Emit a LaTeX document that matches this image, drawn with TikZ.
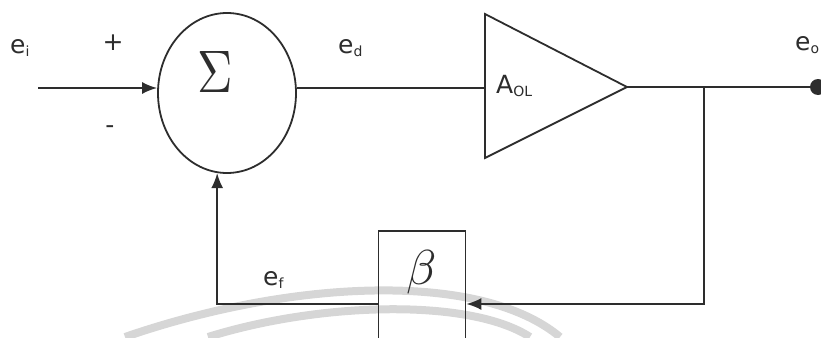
\documentclass[tikz,border=0pt]{standalone}
\usepackage{graphicx}
\usepackage{fontspec}
\setmainfont{DejaVu Sans}
\usetikzlibrary{positioning,arrows.meta,calc,shapes.geometric}
\definecolor{wire}{RGB}{45,45,45}
\definecolor{wmark}{RGB}{214,214,214}
\newcommand{\lsub}[1]{\raisebox{-3pt}{\fontsize{14}{14}\selectfont #1}}

\begin{document}
\begin{tikzpicture}[x=1pt,y=-1pt,>={Latex[length=15pt,width=12pt]},
  wire/.style={draw=wire,line width=1.8pt},
  sig/.style={font=\fontsize{25}{28}\selectfont,inner sep=0pt,text=wire},
  sym/.style={inner sep=0pt,text=wire}]
  \useasboundingbox (0,0) rectangle (821,337);
  % ---- watermark arcs ----
  \draw[wmark,line width=8pt] (125,337) .. controls (290,280) and (480,270) .. (560,337);
  \draw[wmark,line width=8pt] (208,337) .. controls (320,302) and (470,298) .. (530,337);
  % ---- summing junction ----
  \node[wire,ellipse,minimum width=138pt,minimum height=160pt,inner sep=0pt]
     (sum) at (227,93) {};
  \node[sym] (sigma) at (215,72) {\scalebox{4.9}[6.0]{$\Sigma$}};
  \coordinate (ein) at (38,88);
  \draw[wire,->] (ein) -- (ein -| sum.west);
  \node[sig,anchor=base west] (lei) at (10,53) {e\lsub{i}};
  \node[sig] (plus) at (113,43) {+};
  \node[sig] (minus) at (110,130) {-};
  % ---- amplifier ----
  \coordinate (ampin) at (485,88);
  \coordinate (ampout) at (627,87);
  \draw[wire,line join=miter] (485,14) -- (ampout) -- (485,158) -- cycle;
  \node[sig,anchor=base west] (laol) at (496,93) {A\lsub{OL}};
  \draw[wire] (ampin -| sum.east) -- (ampin);
  \node[sig,anchor=base west] (led) at (338,53) {e\lsub{d}};
  % ---- output ----
  \node[circle,fill=wire,minimum size=16pt,inner sep=0pt] (eo) at (818,87) {};
  \draw[wire] (ampout) -- (eo.west);
  \node[sig,anchor=base west] (leo) at (795,51) {e\lsub{o}};
  % ---- feedback path ----
  \coordinate (tap) at (704,87);
  \node[wire,minimum width=87pt,minimum height=146pt,inner sep=0pt]
     (beta) at (422,304) {};
  \node[sym] (betasym) at (422,272) {\scalebox{4.9}{$\beta$}};
  \draw[wire,->] (tap) |- (beta.east);
  \draw[wire,->] (beta.west) -| (sum.263);
  \node[sig,anchor=base west] (lef) at (263,285) {e\lsub{f}};
\end{tikzpicture}
\end{document}
